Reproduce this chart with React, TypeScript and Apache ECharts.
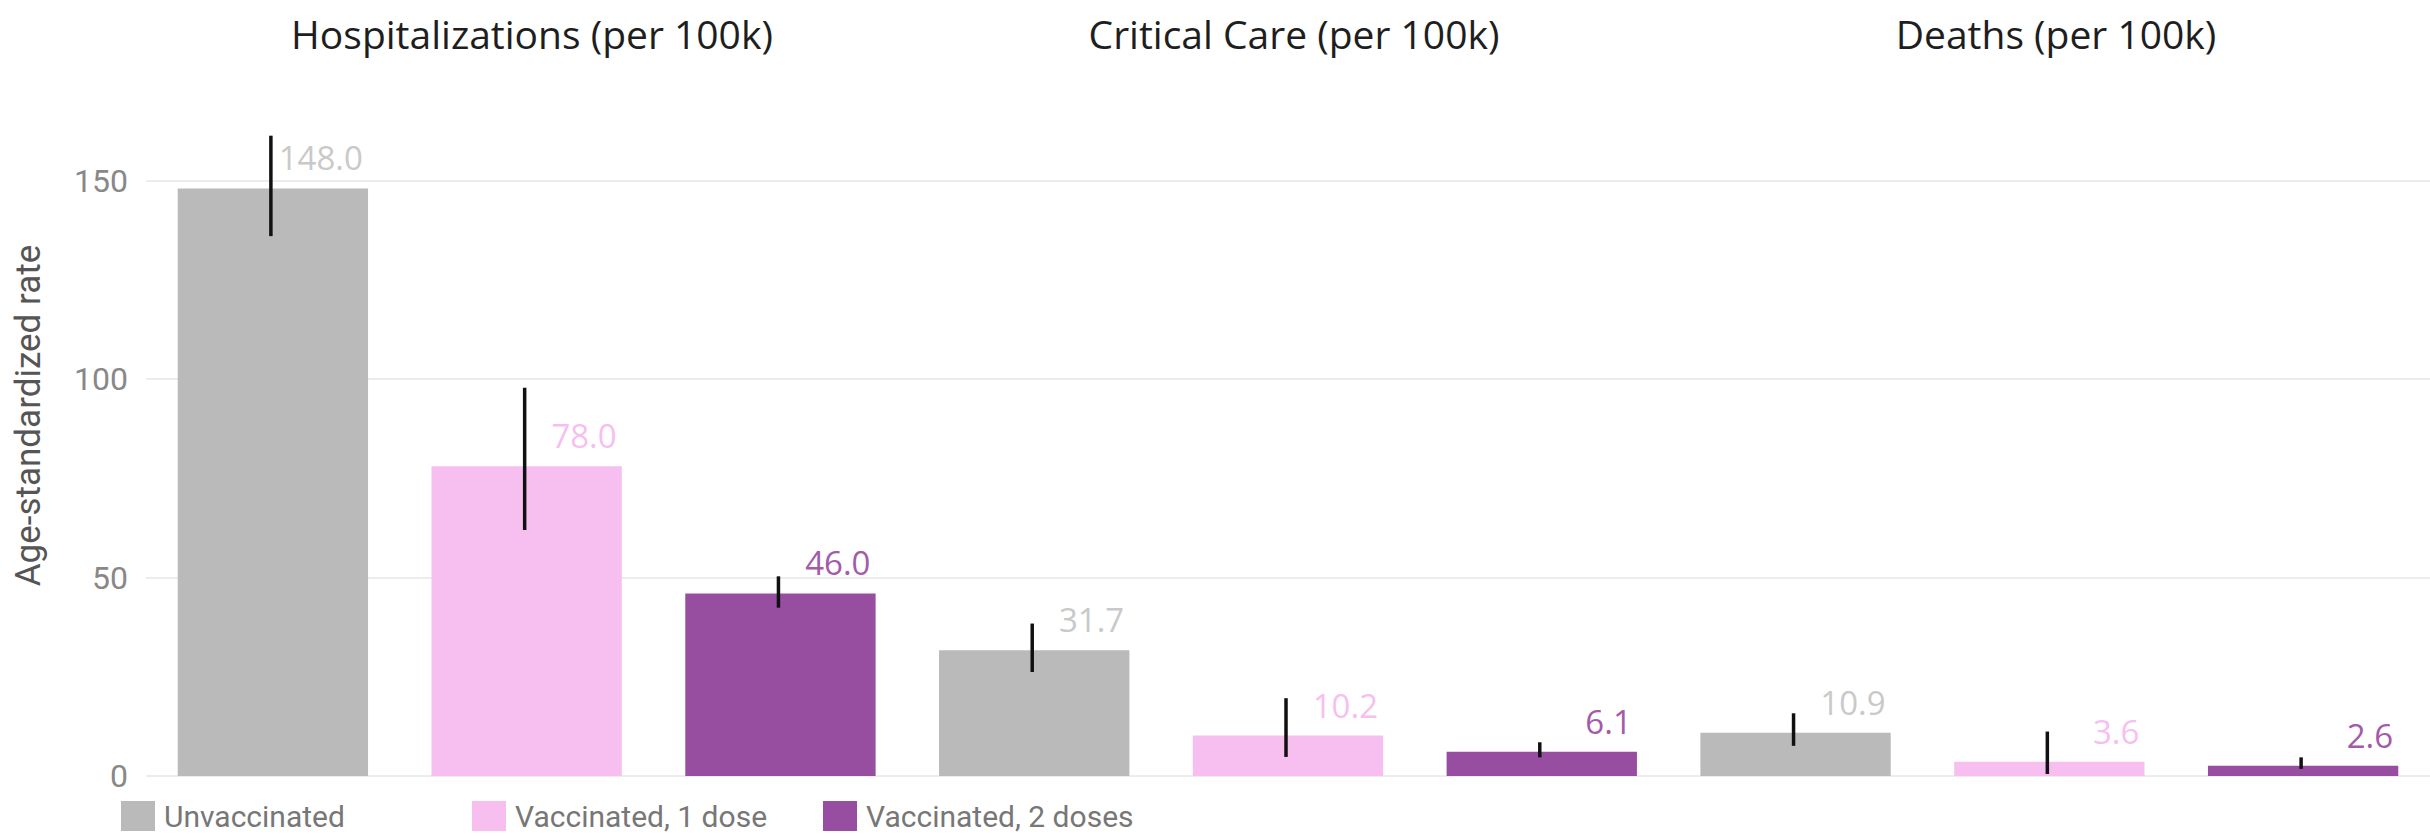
import React, { useEffect, useRef } from "react";
import * as echarts from "echarts";

const panels = ["Hospitalizations (per 100k)", "Critical Care (per 100k)", "Deaths (per 100k)"];
const groups = ["Unvaccinated", "Vaccinated, 1 dose", "Vaccinated, 2 doses"];
const groupColors = ["#bababa", "#f7bfef", "#984ea0"];
const labelColors = ["#c9c9c9", "#f7bfef", "#a35aab"];

// one value per bar, in order: panel x group
const rates = [148.0, 78.0, 46.0, 31.7, 10.2, 6.1, 10.9, 3.6, 2.6];
const ciLow = [136.0, 62.0, 42.4, 26.2, 4.8, 4.7, 7.6, 0.5, 1.8];
const ciHigh = [161.3, 97.8, 50.3, 38.4, 19.6, 8.5, 15.8, 11.2, 4.7];

const yTicks = [0, 50, 100, 150];
const yMax = 165;

const categories = panels.flatMap((p) => groups.map((g) => `${p} | ${g}`));

const FONT = "Roboto";
const TITLE_FONT = "Open Sans";
const GRID_LEFT = 146;
const GRID_WIDTH = 2286;

export default function App() {
  const ref = useRef<HTMLDivElement>(null);

  useEffect(() => {
    if (!ref.current) return;
    const chart = echarts.init(ref.current, undefined, { renderer: "svg" });
    const band = GRID_WIDTH / categories.length;

    const barSeries = groups.map((g, gi) => ({
      name: g,
      type: "bar",
      stack: "all",
      barWidth: "75%",
      itemStyle: { color: groupColors[gi] },
      data: categories.map((_, i) => (i % groups.length === gi ? rates[i] : "-")),
      label: {
        show: true,
        position: "top",
        distance: 14,
        align: "right",
        offset: [90, 0],
        fontFamily: TITLE_FONT,
        fontSize: 33,
        color: labelColors[gi],
        formatter: (p: any) => Number(p.value).toFixed(1),
      },
      z: 2,
    }));

    const errorSeries = {
      type: "custom",
      name: "CI",
      z: 5,
      encode: { x: 0, y: [1, 2] },
      data: ciLow.map((lo, i) => [i, lo, ciHigh[i]]),
      renderItem: (_params: any, api: any) => {
        const a = api.coord([api.value(0), api.value(1)]);
        const b = api.coord([api.value(0), api.value(2)]);
        return {
          type: "line",
          shape: { x1: a[0] - 2, y1: a[1], x2: b[0] - 2, y2: b[1] },
          style: { stroke: "#111111", lineWidth: 3.5 },
        };
      },
    };

    const option: any = {
      animation: false,
      backgroundColor: "#ffffff",
      title: panels.map((p, k) => ({
        text: p,
        left: GRID_LEFT + (k * groups.length + groups.length / 2) * band,
        top: 9,
        textAlign: "center",
        textStyle: { fontFamily: TITLE_FONT, fontSize: 39, fontWeight: "normal", color: "#1e1e1e" },
      })),
      legend: groups.map((g, gi) => ({
        data: [g],
        left: [116, 467, 818][gi],
        top: 796,
        itemWidth: 34,
        itemHeight: 30,
        icon: "rect",
        selectedMode: false,
        textStyle: { fontFamily: FONT, fontSize: 30, color: "#777777", padding: [0, 0, 0, 4] },
      })),
      grid: { left: GRID_LEFT, width: GRID_WIDTH, top: 121, bottom: 61, containLabel: false },
      xAxis: {
        type: "category",
        data: categories,
        axisLine: { show: false },
        axisTick: { show: false },
        axisLabel: { show: false },
      },
      yAxis: {
        type: "value",
        min: 0,
        max: yMax,
        interval: 50,
        name: "Age-standardized rate",
        nameLocation: "middle",
        nameGap: 100,
        nameTextStyle: { fontFamily: FONT, fontSize: 35, color: "#555555", padding: [0, 0, 0, 66] },
        axisLine: { show: false },
        axisTick: { show: false },
        axisLabel: {
          margin: 18,
          fontFamily: FONT,
          fontSize: 32,
          color: "#888888",
          showMaxLabel: false,
          formatter: (v: number) => (yTicks.includes(v) ? String(v) : ""),
        },
        splitLine: { showMaxLine: false, lineStyle: { color: "#ececec", width: 2 } },
      },
      series: [...barSeries, errorSeries],
    };

    chart.setOption(option);
    return () => chart.dispose();
  }, []);

  return (
    <div
      ref={ref}
      style={{ position: "fixed", left: 0, top: 0, width: 2430, height: 837, background: "#fff" }}
    />
  );
}
